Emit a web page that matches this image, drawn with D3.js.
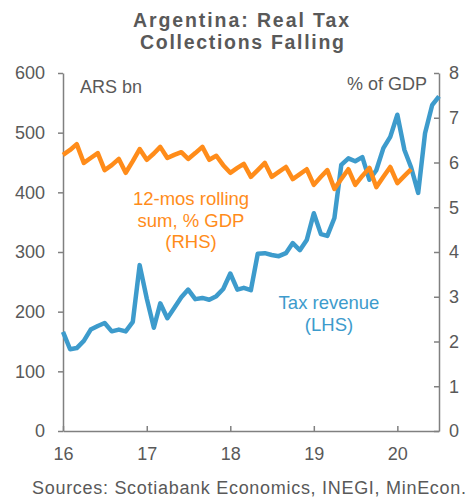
<!DOCTYPE html>
<html>
<head>
<meta charset="utf-8">
<script src="https://cdn.jsdelivr.net/npm/d3@7"></script>
<style>
  body { margin: 0; background: #fff; }
  text { font-family: "Liberation Sans", Arial, sans-serif; }
</style>
</head>
<body>
<div id="chart"></div>
<script>
// monthly data, Jan 2016 onward
var startMonth = new Date(2016, 0, 1);

// tax revenue, ARS bn (LHS)
var taxRevenue = [166, 137, 139, 151, 170, 176, 181, 167, 170, 167, 183, 278,
                  222, 173, 214, 189, 206, 224, 237, 221, 223, 220, 226, 238,
                  264, 237, 240, 236, 297, 298, 295, 293, 298, 315, 303, 320,
                  365, 330, 327, 357, 446, 457, 452, 459, 421, 437, 474, 493,
                  530, 471, 442, 399, 499, 546, 561];

// 12-mos rolling sum, % GDP (RHS)
var pctGdp = [6.17, 6.28, 6.41, 5.99, 6.10, 6.21, 5.83, 5.94, 6.08, 5.77, 6.03, 6.30,
              6.06, 6.20, 6.35, 6.10, 6.17, 6.23, 6.08, 6.21, 6.35, 6.06, 6.15, 5.94,
              5.77, 5.88, 5.97, 5.68, 5.83, 5.99, 5.68, 5.79, 5.90, 5.63, 5.74, 5.85,
              5.50, 5.68, 5.83, 5.41, 5.63, 5.85, 5.50, 5.70, 5.88, 5.45, 5.68, 5.90,
              5.54, 5.70, 5.85];

var leftTicks = [0, 100, 200, 300, 400, 500, 600];
var rightTicks = [0, 1, 2, 3, 4, 5, 6, 7, 8];
var yearTicks = [2016, 2017, 2018, 2019, 2020];

var W = 471, H = 497;
var x0 = 63, x1 = 439, yTop = 73, yBot = 431;
var grey = "#595959", axisGrey = "#808080";
var blue = "#3d9bcc", orange = "#ff8c1a";

var svg = d3.select("#chart").append("svg")
  .attr("width", W)
  .attr("height", H);

svg.append("rect").attr("width", W).attr("height", H).attr("fill", "#fff");

function monthDate(i) { return d3.timeMonth.offset(startMonth, i); }

var xScale = d3.scaleTime()
  .domain([startMonth, monthDate(taxRevenue.length - 1)])
  .range([x0, x1]);
var yLeft = d3.scaleLinear().domain([0, 600]).range([yBot, yTop]);
var yRight = d3.scaleLinear().domain([0, 8]).range([yBot, yTop]);

// title
svg.append("text")
  .attr("x", 241).attr("y", 27.3)
  .attr("text-anchor", "middle")
  .attr("font-size", "19.5px").attr("font-weight", "bold")
  .attr("fill", grey)
  .attr("textLength", 216).attr("lengthAdjust", "spacing")
  .text("Argentina:  Real Tax");
svg.append("text")
  .attr("x", 242).attr("y", 49.2)
  .attr("text-anchor", "middle")
  .attr("font-size", "19.5px").attr("font-weight", "bold")
  .attr("fill", grey)
  .attr("textLength", 204).attr("lengthAdjust", "spacing")
  .text("Collections Falling");

// axes
var leftAxis = svg.append("g")
  .attr("transform", "translate(" + x0 + ",0)")
  .call(d3.axisLeft(yLeft).tickValues(leftTicks).tickSize(5).tickSizeOuter(0).tickPadding(13));

var rightAxis = svg.append("g")
  .attr("transform", "translate(" + x1 + ",0)")
  .call(d3.axisRight(yRight).tickValues(rightTicks).tickSize(-5).tickSizeOuter(0).tickPadding(10));

var bottomAxis = svg.append("g")
  .attr("transform", "translate(0," + yBot + ")")
  .call(d3.axisBottom(xScale)
    .tickValues(yearTicks.map(function (y) { return new Date(y, 0, 1); }))
    .tickFormat(d3.timeFormat("%y"))
    .tickSize(-5).tickSizeOuter(0).tickPadding(16));

[leftAxis, rightAxis, bottomAxis].forEach(function (g) {
  g.select(".domain").attr("stroke", axisGrey).attr("stroke-width", 1.5);
  g.selectAll(".tick line").attr("stroke", axisGrey).attr("stroke-width", 1.5);
  g.selectAll(".tick text")
    .attr("fill", grey)
    .attr("font-size", "18px")
    .attr("font-family", "Liberation Sans, Arial, sans-serif");
});

// lines
var blueLine = d3.line()
  .x(function (d, i) { return xScale(monthDate(i)); })
  .y(function (d) { return yLeft(d); });
var orangeLine = d3.line()
  .x(function (d, i) { return xScale(monthDate(i)); })
  .y(function (d) { return yRight(d); });

svg.append("path")
  .datum(taxRevenue)
  .attr("d", blueLine)
  .attr("fill", "none")
  .attr("stroke", blue)
  .attr("stroke-width", 4.5)
  .attr("stroke-linejoin", "round");

svg.append("path")
  .datum(pctGdp)
  .attr("d", orangeLine)
  .attr("fill", "none")
  .attr("stroke", orange)
  .attr("stroke-width", 4.5)
  .attr("stroke-linejoin", "round");

// labels
svg.append("text")
  .attr("x", 80).attr("y", 93)
  .attr("font-size", "18px").attr("fill", grey)
  .text("ARS bn");
svg.append("text")
  .attr("x", 427).attr("y", 90)
  .attr("text-anchor", "end")
  .attr("font-size", "18px").attr("fill", grey)
  .text("% of GDP");

var orangeLabel = ["12-mos rolling", "sum, % GDP", "(RHS)"];
svg.append("g").selectAll("text")
  .data(orangeLabel)
  .enter()
  .append("text")
  .attr("x", 191)
  .attr("y", function (d, i) { return 205 + i * 21.5; })
  .attr("text-anchor", "middle")
  .attr("font-size", "18.5px")
  .attr("fill", orange)
  .text(function (d) { return d; });

var blueLabel = ["Tax revenue", "(LHS)"];
svg.append("g").selectAll("text")
  .data(blueLabel)
  .enter()
  .append("text")
  .attr("x", 329)
  .attr("y", function (d, i) { return 309 + i * 21.5; })
  .attr("text-anchor", "middle")
  .attr("font-size", "18.5px")
  .attr("fill", blue)
  .text(function (d) { return d; });

// source
svg.append("text")
  .attr("x", 249).attr("y", 494)
  .attr("text-anchor", "middle")
  .attr("font-size", "18px").attr("fill", grey)
  .attr("textLength", 434).attr("lengthAdjust", "spacing")
  .text("Sources: Scotiabank Economics, INEGI, MinEcon.");
</script>
</body>
</html>
